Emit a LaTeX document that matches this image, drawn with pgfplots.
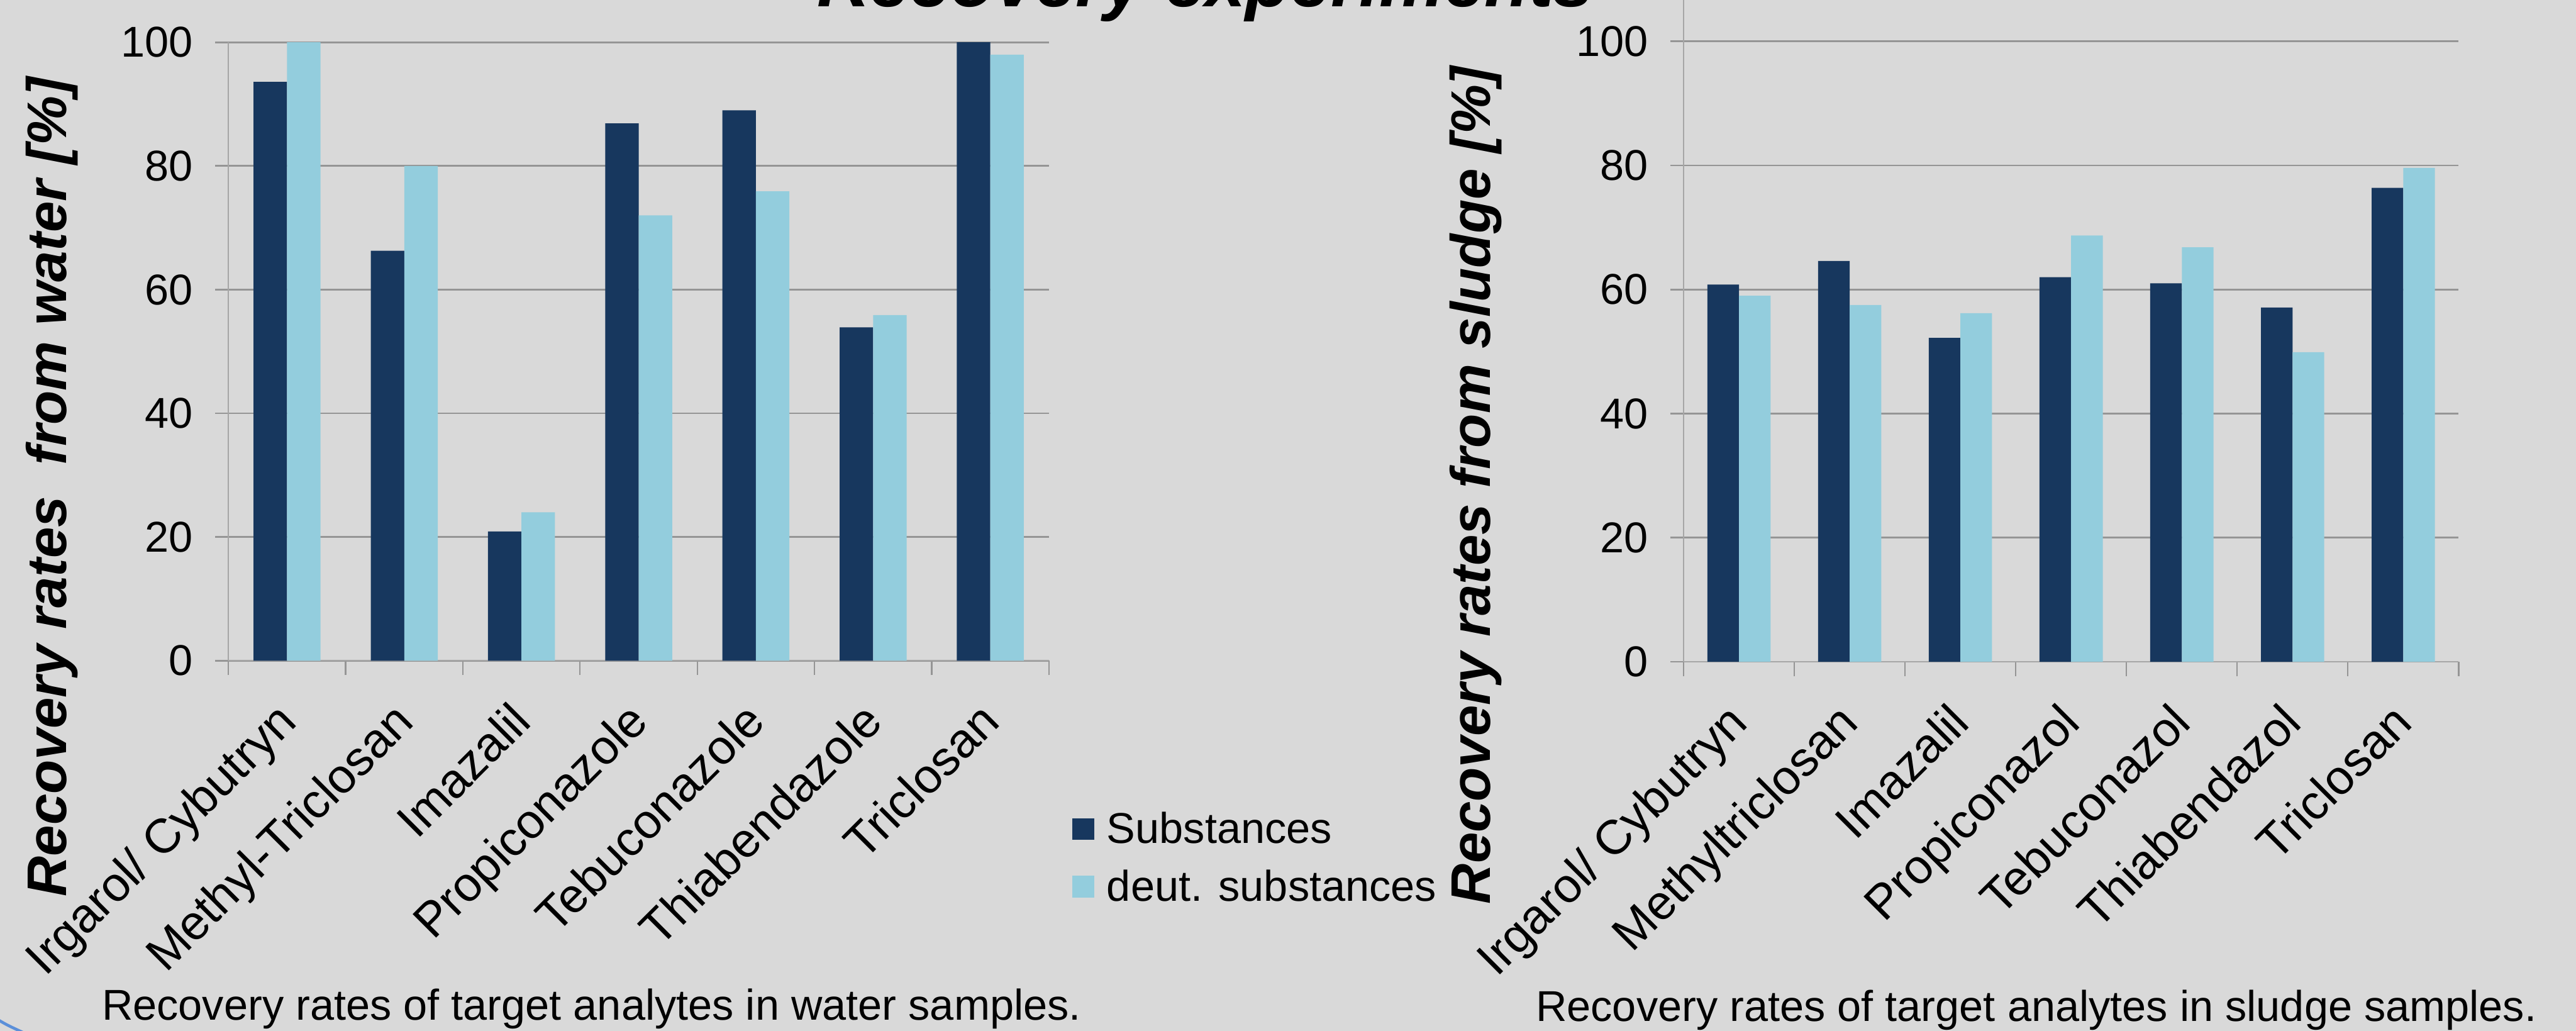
\documentclass[border=0pt]{standalone}
\usepackage{fontspec}
\setmainfont{Liberation Sans}
\usepackage{pgfplots}
\pgfplotsset{compat=1.18}
\definecolor{bg}{HTML}{D9D9D9}
\definecolor{navy}{HTML}{17375E}
\definecolor{aqua}{HTML}{93CDDD}
\definecolor{gridc}{HTML}{959595}
\definecolor{axisc}{HTML}{A6A6A6}
\definecolor{arcblue}{HTML}{5B8FD9}
\newcommand\tickfont{\fontsize{21.3pt}{25pt}\selectfont}
\newcommand\catfont{\fontsize{23.9pt}{28pt}\selectfont}
\newcommand\labfont{\fontsize{27.6pt}{33pt}\selectfont\bfseries\itshape}
\newcommand\titlefont{\fontsize{36pt}{43pt}\selectfont\bfseries\itshape}
\pgfplotsset{
  mybars/.style={
    scale only axis, ybar, bar width=0.2857,
    xmin=-0.5, xmax=6.5, ymin=0,
    axis lines*=left,
    axis line style={draw=axisc, line width=0.025cm},
    ymajorgrids, grid style={draw=gridc, line width=0.03cm},
    ytick={0,20,...,100},
    xtick={0.1,1.1,2.1,3.1,4.1,5.1,6.1},
    minor xtick={-0.5,0.5,...,6.5},
    tick align=outside,
    major tick length=0.23cm, minor tick length=0.25cm,
    major x tick style={draw=none},
    minor x tick style={draw=gridc, line width=0.025cm},
    ytick style={draw=gridc, line width=0.03cm},
    tick label style={font=\tickfont},
    /pgf/number format/assume math mode=true,
    yticklabel style={anchor=east, inner sep=0pt, xshift=-0.38cm},
    xticklabel shift=0.87cm,
    xticklabel style={font=\catfont, rotate=45, anchor=base east, inner sep=0pt},
  },
  dark/.style={fill=navy, draw=none, bar shift=-0.142857,
    legend image code/.code={\fill[navy] (0cm,-0.19cm) rectangle (0.38cm,0.19cm);}},
  light/.style={fill=aqua, draw=none, bar shift=0.142857,
    legend image code/.code={\fill[aqua] (0cm,-0.19cm) rectangle (0.38cm,0.19cm);}},
}
\begin{document}
\begin{tikzpicture}
\useasboundingbox (0,0) rectangle (44.77,17.91);
\fill[bg] (0,0) rectangle (44.77,17.91);
\clip (0,0) rectangle (44.77,17.91);

\begin{axis}[mybars,
  at={(3.97cm,6.43cm)}, anchor=south west,
  width=14.26cm, height=10.745cm, ymax=100,
  xticklabels={Irgarol/ Cybutryn, Methyl-Triclosan, Imazalil, Propiconazole, Tebuconazole, Thiabendazole, Triclosan},
  ylabel={Recovery rates~ from water [\%]},
  every axis y label/.style={at={(axis description cs:-0.1978,0.281)}, rotate=90, anchor=base, font=\labfont},
  legend style={at={(axis description cs:1.028,-0.3188)}, anchor=west, draw=none, fill=none,
    font=\tickfont, inner sep=0pt, row sep=0.4cm,
    nodes={inner sep=0pt, text height=0.55cm, text depth=0.05cm},
    /tikz/every odd column/.style={column sep=0.22cm}},
  legend cell align=left,
]
\addplot[dark] coordinates {(0,93.6) (1,66.3) (2,20.9) (3,86.9) (4,89.0) (5,53.9) (6,100)};
\addlegendentry{Substances}
\addplot[light] coordinates {(0,100) (1,80.0) (2,24.0) (3,72.0) (4,75.9) (5,55.9) (6,98.0)};
\addlegendentry{deut. substances}
\end{axis}

\begin{axis}[mybars,
  at={(29.26cm,6.41cm)}, anchor=south west,
  width=13.47cm, height=11.50cm, ymax=106.67,
  xticklabels={Irgarol/ Cybutryn, Methyltriclosan, Imazalil, Propiconazol, Tebuconazol, Thiabendazol, Triclosan},
  ylabel={Recovery rates from sludge [\%]},
  every axis y label/.style={at={(axis description cs:-0.2494,0.267)}, rotate=90, anchor=base, font=\labfont},
]
\addplot[dark] coordinates {(0,60.8) (1,64.6) (2,52.2) (3,62.0) (4,61.0) (5,57.1) (6,76.4)};
\addplot[light] coordinates {(0,59.0) (1,57.5) (2,56.2) (3,68.7) (4,66.8) (5,49.9) (6,79.6)};
\end{axis}

\node[anchor=base, font=\titlefont] at (20.95,17.79) {Recovery experiments};
\node[anchor=base, font=\tickfont] at (10.28,0.19) {Recovery rates of target analytes in water samples.};
\node[anchor=base, font=\tickfont] at (35.39,0.17) {Recovery rates of target analytes in sludge samples.};
\draw[arcblue, line width=0.05cm] (-0.05,0.20) .. controls (0.12,0.10) .. (0.40,-0.03);
\end{tikzpicture}
\end{document}
